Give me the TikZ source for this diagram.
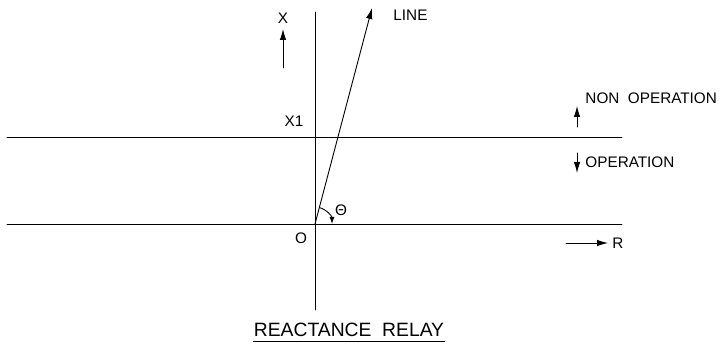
\documentclass[tikz,border=0pt]{standalone}
\usepackage{fontspec}
\setmainfont{Liberation Sans}
\usetikzlibrary{arrows.meta}
\begin{document}
\begin{tikzpicture}[x=1pt,y=1pt,line width=0.9pt,line cap=round,
  lbl/.style={font=\fontsize{15.3}{16}\selectfont,inner sep=0pt},
  head/.style={-{Latex[length=11pt,width=6.5pt]}},
  smallhead/.style={-{Latex[length=7pt,width=5pt]}}]
\useasboundingbox (0,0) rectangle (722,356);
% axes and the X1 line
\coordinate (O) at (315,132);
\coordinate (vtop) at (315,344);
\coordinate (vbot) at (315,46);
\coordinate (rl) at (7,132);
\coordinate (rr) at (622,132);
\coordinate (xl) at (7,219);
\coordinate (xr) at (622,219);
\draw (vbot) -- (vtop);
\draw (rl) -- (rr);
\draw (xl) -- (xr);
% the line and its angle
\coordinate (ltip) at (372,348);
\draw[head] (O) -- (ltip);
\draw[smallhead] (O) ++(75.2:17) arc[start angle=75.2,end angle=0,radius=17];
\node[lbl] (theta) at (341,146) {Θ};
\node[lbl,anchor=west] (line) at (393,341) {LINE};
% labels
\node[lbl] (x) at (283,338) {X};
\coordinate (xa) at (283,288);
\coordinate (xb) at (283,327);
\draw[head] (xa) -- (xb);
\node[lbl] (xone) at (294,235) {X1};
\node[lbl] (o) at (301,118) {O};
\coordinate (ra) at (566,113);
\coordinate (rb) at (608,113);
\draw[head] (ra) -- (rb);
\node[lbl,anchor=west] (r) at (612,113) {R};
% regions
\coordinate (na) at (577,229);
\coordinate (nb) at (577,250);
\draw[head] (na) -- (nb);
\node[lbl,anchor=west] (nonop) at (585,258) {NON\ \ OPERATION};
\coordinate (oa) at (577,203);
\coordinate (ob) at (577,183);
\draw[head] (oa) -- (ob);
\node[lbl,anchor=west] (op) at (585,194) {OPERATION};
% title
\node[font=\fontsize{19.3}{20}\selectfont,inner sep=0pt] (title) at (349,26) {REACTANCE\ \ RELAY};
\draw ([yshift=-4.5pt]title.south west) -- ([yshift=-4.5pt]title.south east);
\end{tikzpicture}
\end{document}
